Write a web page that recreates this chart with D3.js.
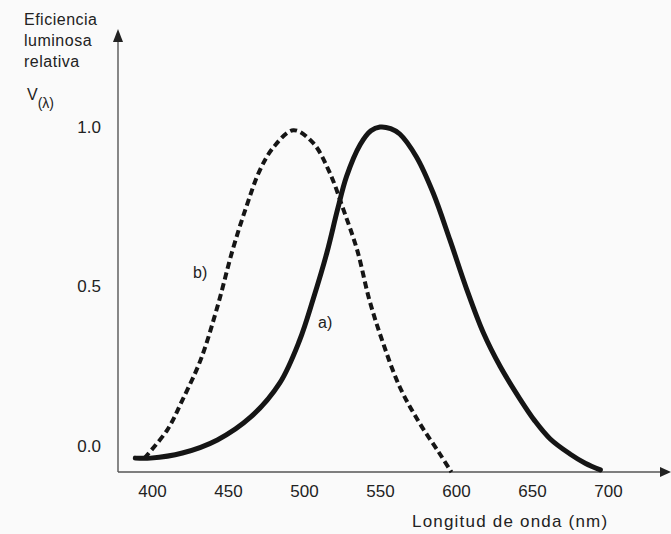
<!DOCTYPE html>
<html>
<head>
<meta charset="utf-8">
<script src="https://cdn.jsdelivr.net/npm/d3@7"></script>
<style>
  html, body { margin: 0; padding: 0; background: #fafafa; }
  svg { display: block; font-family: "Liberation Sans", Arial, sans-serif; }
</style>
</head>
<body>
<svg id="chart" width="671" height="534"></svg>
<script>
// tick labels
const xTicks = [400, 450, 500, 550, 600, 650, 700];
const yTicks = [0.0, 0.5, 1.0];

// curve a) - photopic (solid)
const curveA_nm = [389, 399, 420, 443, 465, 484, 497, 506, 515, 522, 528, 537, 544, 550, 557, 563, 574, 585, 596, 607, 618, 629, 642, 652, 662, 675, 685, 695];
const curveA_v  = [-0.038, -0.038, -0.022, 0.019, 0.091, 0.197, 0.33, 0.46, 0.605, 0.74, 0.845, 0.945, 0.988, 1.0, 0.995, 0.978, 0.906, 0.793, 0.646, 0.492, 0.355, 0.25, 0.148, 0.078, 0.022, -0.025, -0.054, -0.075];

// curve b) - scotopic (dashed)
const curveB_nm = [395, 410, 420, 432, 443, 453, 462, 471, 480, 493, 506, 517, 526, 535, 543, 552, 563, 576, 589, 597];
const curveB_v  = [-0.038, 0.05, 0.144, 0.27, 0.436, 0.614, 0.749, 0.865, 0.937, 0.99, 0.95, 0.856, 0.74, 0.614, 0.458, 0.323, 0.185, 0.072, -0.022, -0.082];

const svg = d3.select("#chart"),
      margin = { top: 30, right: 0, bottom: 62, left: 118 },
      width = +svg.attr("width") - margin.left - margin.right,
      height = +svg.attr("height") - margin.top - margin.bottom;

const g = svg.append("g")
    .attr("transform", `translate(${margin.left},${margin.top})`);

const x = d3.scaleLinear()
    .domain([400, 700])
    .range([34, 490]);

const y = d3.scaleLinear()
    .domain([0, 1])
    .range([416, 97]);

const axisColor = "#555";
const textColor = "#222";

// X Axis labels (no tick marks)
const xAxis = g.append("g")
    .attr("transform", `translate(0,${height})`)
    .call(d3.axisBottom(x).tickValues(xTicks).tickSize(0).tickPadding(13).tickFormat(d3.format("d")));
xAxis.select(".domain").remove();
xAxis.selectAll("text")
    .style("font-size", "17px")
    .attr("fill", textColor);

// Y Axis labels
const yAxis = g.append("g")
    .call(d3.axisLeft(y).tickValues(yTicks).tickSize(0).tickPadding(17).tickFormat(d3.format(".1f")));
yAxis.select(".domain").remove();
yAxis.selectAll("text")
    .style("font-size", "17px")
    .attr("fill", textColor);

// Axis lines with arrows
g.append("line")
    .attr("x1", 0).attr("y1", height)
    .attr("x2", width - 10).attr("y2", height)
    .attr("stroke", axisColor)
    .attr("stroke-width", 1.4);

g.append("path")
    .attr("d", `M${width},${height} L${width - 11},${height - 5} L${width - 11},${height + 5} Z`)
    .attr("fill", "#222");

g.append("line")
    .attr("x1", 0).attr("y1", height)
    .attr("x2", 0).attr("y2", 10)
    .attr("stroke", axisColor)
    .attr("stroke-width", 1.4);

g.append("path")
    .attr("d", "M0,-1 L-5,12 L5,12 Z")
    .attr("fill", "#222");

// Curves
const line = d3.line()
    .x(d => x(d.nm))
    .y(d => y(d.v))
    .curve(d3.curveCatmullRom.alpha(0.5));

const dataA = curveA_nm.map((nm, i) => ({ nm: nm, v: curveA_v[i] }));
const dataB = curveB_nm.map((nm, i) => ({ nm: nm, v: curveB_v[i] }));

g.append("path")
    .datum(dataB)
    .attr("fill", "none")
    .attr("stroke", "#151515")
    .attr("stroke-width", 4)
    .attr("stroke-dasharray", "7,4")
    .attr("d", line);

g.append("path")
    .datum(dataA)
    .attr("fill", "none")
    .attr("stroke", "#151515")
    .attr("stroke-width", 5)
    .attr("stroke-linecap", "round")
    .attr("d", line);

// Curve labels
svg.append("text")
    .attr("x", 193).attr("y", 278)
    .attr("font-size", "16px")
    .attr("fill", textColor)
    .text("b)");

svg.append("text")
    .attr("x", 318).attr("y", 328)
    .attr("font-size", "16px")
    .attr("fill", textColor)
    .text("a)");

// Y Axis title
["Eficiencia", "luminosa", "relativa"].forEach((t, i) => {
    svg.append("text")
        .attr("x", 24)
        .attr("y", 25 + i * 21)
        .attr("font-size", "16px")
        .attr("letter-spacing", "0.5px")
        .attr("fill", textColor)
        .text(t);
});

const vLabel = svg.append("text")
    .attr("x", 27).attr("y", 100)
    .attr("fill", textColor)
    .attr("font-size", "16px");
vLabel.append("tspan").text("V");
vLabel.append("tspan")
    .attr("dy", 8)
    .attr("font-size", "14px")
    .text("(λ)");

// X Axis title
svg.append("text")
    .attr("x", 412).attr("y", 527)
    .attr("font-size", "17px")
    .attr("letter-spacing", "1.2px")
    .attr("fill", textColor)
    .text("Longitud de onda (nm)");
</script>
</body>
</html>
